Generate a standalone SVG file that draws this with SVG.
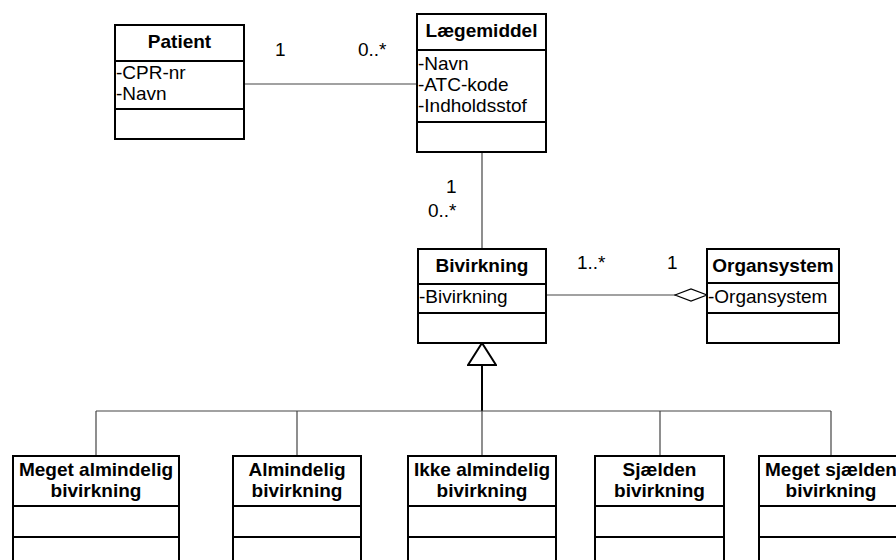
<svg xmlns="http://www.w3.org/2000/svg" width="896" height="560" viewBox="0 0 896 560">
  <style>
    text { font-family: "Liberation Sans", Arial, sans-serif; font-size: 19px; fill: #000; }
    .title { font-weight: bold; text-anchor: middle; }
    .box { fill: #fff; stroke: #000; stroke-width: 2; }
    .sep { stroke: #000; stroke-width: 2; }
    .conn { fill: none; stroke: #444; stroke-width: 1.2; }
    .gen { fill: none; stroke: #000; stroke-width: 2; }
  </style>
  <defs>
    <marker id="aggregation" viewBox="0 0 34 14" refX="33" refY="7" markerWidth="34" markerHeight="14" markerUnits="userSpaceOnUse" orient="auto">
      <path d="M1,7 L17,1 L33,7 L17,13 Z" fill="#fff" stroke="#000" stroke-width="1.2"/>
    </marker>
    <marker id="generalization" viewBox="0 0 24 30" refX="23" refY="15" markerWidth="24" markerHeight="30" markerUnits="userSpaceOnUse" orient="auto">
      <path d="M1,1 L23,15 L1,29 Z" fill="#fff" stroke="#000" stroke-width="2"/>
    </marker>
  </defs>
  <rect width="896" height="560" fill="#fff"/>

  <!-- connectors -->
  <g id="connectors">
    <line class="conn" x1="244" y1="84" x2="417" y2="84"/>
    <line class="conn" x1="482" y1="152" x2="482" y2="249"/>
    <line class="conn" x1="546" y1="295" x2="707" y2="295" marker-end="url(#aggregation)"/>
    <!-- generalization tree -->
    <line class="gen" x1="482" y1="411" x2="482" y2="343" marker-end="url(#generalization)"/>
    <line class="conn" x1="96" y1="411" x2="831" y2="411"/>
    <line class="conn" x1="96" y1="411" x2="96" y2="456"/>
    <line class="conn" x1="297" y1="411" x2="297" y2="456"/>
    <line class="conn" x1="482" y1="411" x2="482" y2="456"/>
    <line class="conn" x1="660" y1="411" x2="660" y2="456"/>
    <line class="conn" x1="831" y1="411" x2="831" y2="456"/>
    <!-- multiplicities -->
    <text x="275" y="56">1</text>
    <text x="358" y="56">0..*</text>
    <text x="446" y="193">1</text>
    <text x="428" y="217">0..*</text>
    <text x="577" y="269">1..*</text>
    <text x="667" y="269">1</text>
  </g>

  <g id="patient">
    <rect class="box" x="115" y="25" width="129" height="114"/>
    <line class="sep" x1="115" y1="61" x2="244" y2="61"/>
    <line class="sep" x1="115" y1="109" x2="244" y2="109"/>
    <text class="title" x="179.5" y="48">Patient</text>
    <text x="116" y="79">-CPR-nr</text>
    <text x="116" y="100">-Navn</text>
  </g>

  <g id="laegemiddel">
    <rect class="box" x="417" y="14" width="129" height="138"/>
    <line class="sep" x1="417" y1="50" x2="546" y2="50"/>
    <line class="sep" x1="417" y1="122" x2="546" y2="122"/>
    <text class="title" x="481.5" y="37">Lægemiddel</text>
    <text x="418" y="70">-Navn</text>
    <text x="418" y="91">-ATC-kode</text>
    <text x="418" y="112">-Indholdsstof</text>
  </g>

  <g id="bivirkning">
    <rect class="box" x="418" y="249" width="128" height="94"/>
    <line class="sep" x1="418" y1="284" x2="546" y2="284"/>
    <line class="sep" x1="418" y1="313" x2="546" y2="313"/>
    <text class="title" x="482" y="272">Bivirkning</text>
    <text x="419" y="303">-Bivirkning</text>
  </g>

  <g id="organsystem">
    <rect class="box" x="707" y="249" width="132" height="94"/>
    <line class="sep" x1="707" y1="283" x2="839" y2="283"/>
    <line class="sep" x1="707" y1="313" x2="839" y2="313"/>
    <text class="title" x="773" y="272">Organsystem</text>
    <text x="708" y="303">-Organsystem</text>
  </g>

  <g id="meget-almindelig">
    <rect class="box" x="13" y="456" width="166" height="114"/>
    <line class="sep" x1="13" y1="506" x2="179" y2="506"/>
    <line class="sep" x1="13" y1="537" x2="179" y2="537"/>
    <text class="title" x="96" y="476">Meget almindelig</text>
    <text class="title" x="96" y="497">bivirkning</text>
  </g>

  <g id="almindelig">
    <rect class="box" x="233" y="456" width="128" height="114"/>
    <line class="sep" x1="233" y1="506" x2="361" y2="506"/>
    <line class="sep" x1="233" y1="537" x2="361" y2="537"/>
    <text class="title" x="297" y="476">Almindelig</text>
    <text class="title" x="297" y="497">bivirkning</text>
  </g>

  <g id="ikke-almindelig">
    <rect class="box" x="408" y="456" width="148" height="114"/>
    <line class="sep" x1="408" y1="506" x2="556" y2="506"/>
    <line class="sep" x1="408" y1="537" x2="556" y2="537"/>
    <text class="title" x="482" y="476">Ikke almindelig</text>
    <text class="title" x="482" y="497">bivirkning</text>
  </g>

  <g id="sjaelden">
    <rect class="box" x="595" y="456" width="129" height="114"/>
    <line class="sep" x1="595" y1="506" x2="724" y2="506"/>
    <line class="sep" x1="595" y1="537" x2="724" y2="537"/>
    <text class="title" x="659.5" y="476">Sjælden</text>
    <text class="title" x="659.5" y="497">bivirkning</text>
  </g>

  <g id="meget-sjaelden">
    <rect class="box" x="759" y="456" width="144" height="114"/>
    <line class="sep" x1="759" y1="506" x2="903" y2="506"/>
    <line class="sep" x1="759" y1="537" x2="903" y2="537"/>
    <text class="title" x="831" y="476">Meget sjælden</text>
    <text class="title" x="831" y="497">bivirkning</text>
  </g>
</svg>
